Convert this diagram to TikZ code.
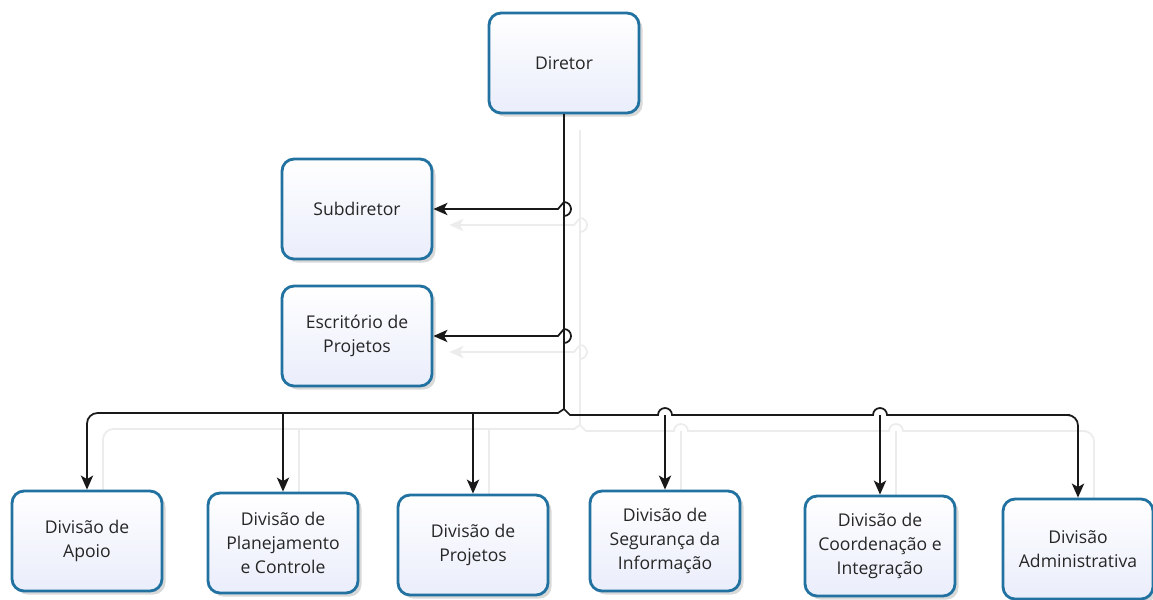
\documentclass[tikz,border=0pt]{standalone}
\usepackage{fontspec}
\setmainfont{Open Sans}
\usetikzlibrary{arrows.meta,shadows}

\definecolor{boxline}{RGB}{33,114,160}
\definecolor{boxfill}{RGB}{234,237,251}
\definecolor{linkgray}{RGB}{25,25,25}
\definecolor{ghost}{RGB}{236,236,236}

\pgfdeclarelayer{back}
\pgfsetlayers{back,main}

\tikzset{
	unit/.style={draw=boxline, line width=1.6pt, rounded corners=0.24cm,
		top color=white, bottom color=boxfill, text=black!85,
		minimum width=3cm, minimum height=2cm, align=center,
		font=\fontsize{10}{13.5}\selectfont,
		drop shadow={shadow xshift=2pt, shadow yshift=-2pt, opacity=.15, fill=black}},
	link/.style={draw=linkgray, line width=1pt, -{Stealth[length=8pt,width=7pt,inset=2pt]}},
	ghostlink/.style={draw=ghost, line width=1pt, -{Stealth[length=8pt,width=7pt,inset=2pt]}},
	trunk/.style={draw=linkgray, line width=1pt},
	ghosttrunk/.style={draw=ghost, line width=1pt}
}

% connectors, drawn once faint and once dark
\newcommand{\orglinks}[2]{
	\draw[#2] (dir.south) -- (j);
	\draw[#1] (hs) arc[start angle=90, end angle=-90, radius=7] -- (558,209) -- (sub.east);
	\draw[#1] (he) arc[start angle=90, end angle=-90, radius=7] -- (558,336) -- (esc.east);
	\draw[#1] (j) -- (bl) [rounded corners=6] -| (apoio.north);
	\draw[#1] (plan.north |- bl) -- (plan.north);
	\draw[#1] (proj.north |- bl) -- (proj.north);
	\draw[#1] (j) -- (br) -- (658,415) arc[start angle=180, end angle=360, radius=7]
		-- (873,415) arc[start angle=180, end angle=360, radius=7]
		-- (1070,415) [rounded corners=6] -| (adm.north);
	\draw[#1] (seg.north |- br) -- (seg.north);
	\draw[#1] (coord.north |- br) -- (coord.north);
}

\begin{document}
\begin{tikzpicture}[x=0.02cm, y=-0.02cm]
	\useasboundingbox (0,0) rectangle (1153,599);

	\node[unit] (dir) at (564,63) {Diretor};
	\node[unit] (sub) at (357,209) {Subdiretor};
	\node[unit] (esc) at (357,336) {Escritório de\\Projetos};
	\node[unit] (apoio) at (87,541) {Divisão de\\Apoio};
	\node[unit] (plan) at (283,543) {Divisão de\\Planejamento\\e Controle};
	\node[unit] (proj) at (473,545) {Divisão de\\Projetos};
	\node[unit] (seg) at (665,541) {Divisão de\\Segurança da\\Informação};
	\node[unit] (coord) at (880,546) {Divisão de\\Coordenação e\\Integração};
	\node[unit] (adm) at (1078,549) {Divisão\\Administrativa};

	\coordinate (j) at (564,409);
	\coordinate (bl) at (558,413);
	\coordinate (br) at (570,415);
	\coordinate (hs) at (564,216);
	\coordinate (he) at (564,343);

	\begin{pgfonlayer}{back}
		\begin{scope}[transform canvas={shift={(16,16)}}]
			\orglinks{ghostlink}{ghosttrunk}
		\end{scope}
	\end{pgfonlayer}
	\orglinks{link}{trunk}
\end{tikzpicture}
\end{document}
